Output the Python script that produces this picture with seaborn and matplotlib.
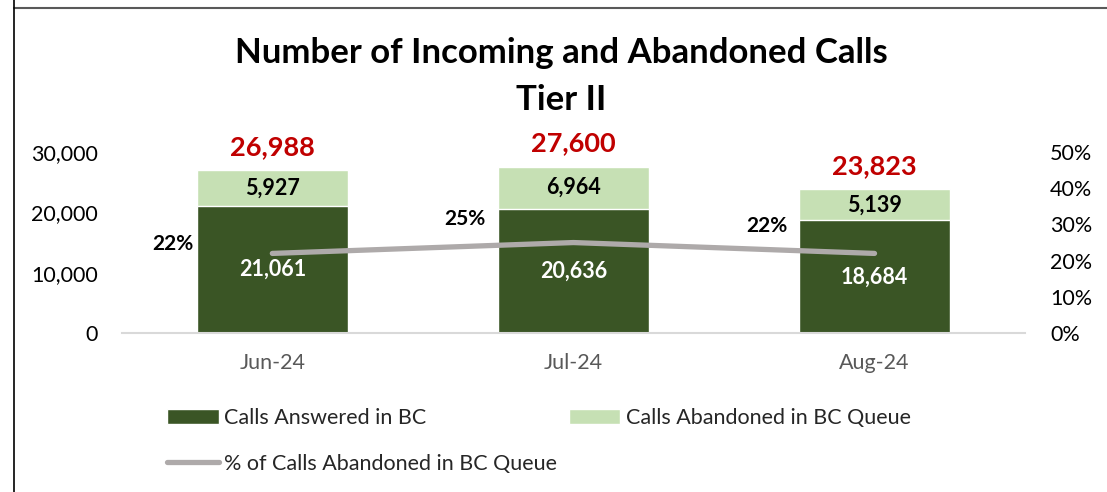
import matplotlib
matplotlib.use("Agg")
import matplotlib.pyplot as plt
import seaborn as sns
import pandas as pd
from matplotlib.patches import Patch
from matplotlib.lines import Line2D
from matplotlib.ticker import FuncFormatter

# data
months = ["Jun-24", "Jul-24", "Aug-24"]
answered = [21061, 20636, 18684]
abandoned = [5927, 6964, 5139]
totals = [26988, 27600, 23823]
pct_abandoned = [0.22, 0.25, 0.22]
pct_labels = ["22%", "25%", "22%"]

DARK = "#3A5525"
LIGHT = "#C6E0B4"
GREY_LINE = "#AEAAAA"
RED = "#C00000"

sns.set_style("white")
plt.rcParams["font.family"] = ["Lato", "DejaVu Sans"]

df = pd.DataFrame({"month": months, "answered": answered,
                   "abandoned": abandoned, "total": totals})

fig = plt.figure(figsize=(11.07, 4.92), dpi=100)
ax = fig.add_axes([0.110, 0.323, 0.816, 0.368])

# stacked bars: total (light) then answered (dark) on top of it
sns.barplot(data=df, x="month", y="total", color=LIGHT, width=0.5,
            saturation=1, ax=ax)
sns.barplot(data=df, x="month", y="answered", color=DARK, width=0.5,
            saturation=1, ax=ax)
ax.set_xlim(-0.5, 2.5)
ax.set_ylim(0, 30000)
ax.set_yticks([0, 10000, 20000, 30000])
ax.yaxis.set_major_formatter(FuncFormatter(lambda v, p: f"{int(v):,}"))
ax.set_xlabel("")
ax.set_ylabel("")
for s in ["top", "right", "left"]:
    ax.spines[s].set_visible(False)
ax.spines["bottom"].set_color("#D9D9D9")
ax.spines["bottom"].set_linewidth(1.5)
ax.tick_params(axis="y", labelsize=15.5, colors="#000000", length=0, pad=17)
ax.tick_params(axis="x", labelsize=15.5, colors="#595959", length=0, pad=14)

for i in range(len(months)):
    ax.text(i, answered[i] / 2, f"{answered[i]:,}", ha="center", va="center",
            color="white", fontsize=15.5, fontweight="bold")
    ax.text(i, answered[i] + abandoned[i] / 2, f"{abandoned[i]:,}",
            ha="center", va="center", color="black", fontsize=15.5,
            fontweight="bold")
    ax.annotate(f"{totals[i]:,}", (i, totals[i]), xytext=(0, 8),
                textcoords="offset points", ha="center", va="bottom",
                color=RED, fontsize=19.5, fontweight="bold")

ax2 = ax.twinx()
sns.lineplot(x=list(range(len(months))), y=pct_abandoned, ax=ax2,
             color=GREY_LINE, linewidth=3.8, solid_capstyle="round")
ax2.set_ylim(0, 0.5)
ax2.set_xlim(-0.5, 2.5)
ax2.set_yticks([0, 0.1, 0.2, 0.3, 0.4, 0.5])
ax2.yaxis.set_major_formatter(FuncFormatter(lambda v, p: f"{v:.0%}"))
ax2.tick_params(axis="y", labelsize=15.5, colors="#000000", length=0, pad=18)
for s in ["top", "right", "left", "bottom"]:
    ax2.spines[s].set_visible(False)

label_offsets = [(-57, 7), (-63, 17), (-63, 20)]
for i, lab in enumerate(pct_labels):
    ax2.annotate(lab, (i, pct_abandoned[i]), xytext=label_offsets[i],
                 textcoords="offset points", ha="right", va="center",
                 fontsize=15, fontweight="bold", color="black")

fig.text(0.507, 0.893, "Number of Incoming and Abandoned Calls",
         ha="center", va="center", fontsize=25, fontweight="bold",
         color="black")
fig.text(0.507, 0.797, "Tier II", ha="center", va="center",
         fontsize=25, fontweight="bold", color="black")

# order so the two-column legend fills like the reference
handles = [Patch(facecolor=DARK, label="Calls Answered in BC"),
           Line2D([0], [0], color=GREY_LINE, linewidth=3.8,
                  solid_capstyle="round",
                  label="% of Calls Abandoned in BC Queue"),
           Patch(facecolor=LIGHT, label="Calls Abandoned in BC Queue")]
fig.legend(handles=handles, loc="upper left", bbox_to_anchor=(0.143, 0.188),
           ncol=2, frameon=False, fontsize=15.5, handlelength=2.4,
           handleheight=0.75, handletextpad=0.25, columnspacing=0.55,
           labelspacing=1.2, borderaxespad=0)

# border lines from the screenshot frame
fig.add_artist(Line2D([0.0125, 1.0], [0.984, 0.984], color="#595959",
                      linewidth=1.5, transform=fig.transFigure))
fig.add_artist(Line2D([0.0125, 0.0125], [0.0, 1.0], color="#000000",
                      linewidth=1.2, transform=fig.transFigure))

fig.savefig("out.png", dpi=100)
